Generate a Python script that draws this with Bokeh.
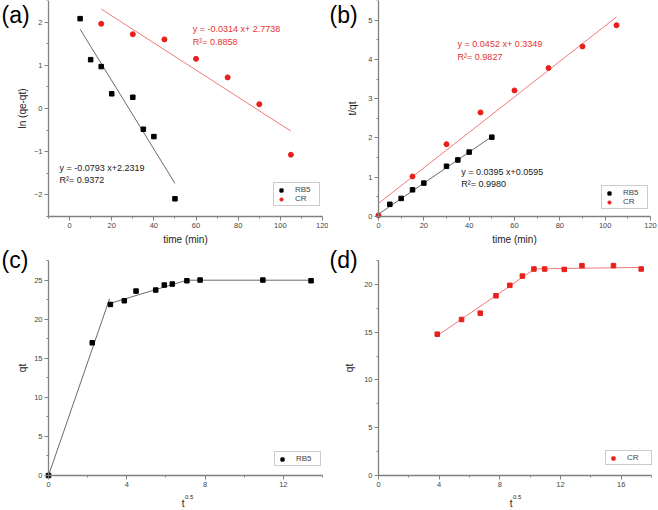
from bokeh.plotting import figure
from bokeh.models import Range1d, FixedTicker, Legend, LegendItem, Label, LinearAxis
from bokeh.layouts import column, row
from bokeh.embed import file_html
from bokeh.resources import INLINE

FONT = "Liberation Sans"
RED = "#e8201c"
RED_TXT = "#e53330"
RED_LINE = "#f07a78"
BLK_LINE = "#6a6a6a"
AX = "#808080"

# ---------------- data ----------------
# (a) pseudo-first-order
a_t_rb5 = [5, 10, 15, 20, 30, 35, 40, 50]
a_ln_rb5 = [2.08, 1.13, 0.97, 0.34, 0.26, -0.48, -0.65, -2.09]
a_t_cr = [15, 30, 45, 60, 75, 90, 105]
a_ln_cr = [1.96, 1.72, 1.60, 1.15, 0.72, 0.10, -1.07]
a_fit_rb5 = [-0.0793, 2.2319]      # slope, intercept
a_fit_cr = [-0.0314, 2.7738]
a_span_rb5 = [5, 50]
a_span_cr = [15, 105]
a_eq_rb5 = ["y = -0.0793 x+2.2319", "R\u00b2= 0.9372"]
a_eq_cr = ["y = -0.0314 x+ 2.7738", "R\u00b2= 0.8858"]

# (b) pseudo-second-order
b_t_rb5 = [5, 10, 15, 20, 30, 35, 40, 50]
b_tq_rb5 = [0.31, 0.46, 0.68, 0.85, 1.28, 1.44, 1.64, 2.02]
b_t_cr = [0, 15, 30, 45, 60, 75, 90, 105]
b_tq_cr = [0.03, 1.02, 1.84, 2.65, 3.21, 3.78, 4.33, 4.87]
b_fit_rb5 = [0.0395, 0.0595]
b_fit_cr = [0.0452, 0.3349]
b_span_rb5 = [0, 50]
b_span_cr = [0, 105]
b_eq_rb5 = ["y = 0.0395 x+0.0595", "R\u00b2= 0.9980"]
b_eq_cr = ["y = 0.0452 x+ 0.3349", "R\u00b2= 0.9827"]

# (c) intraparticle diffusion, RB5
c_x = [0, 2.236, 3.162, 3.873, 4.472, 5.477, 5.916, 6.325, 7.071, 7.746, 10.954, 13.416]
c_qt = [0, 16.97, 21.88, 22.35, 23.59, 23.72, 24.36, 24.49, 24.91, 25.0, 25.0, 24.91]
c_seg_x = [[0, 3.12], [3.12, 7.07], [7.07, 13.42]]
c_seg_y = [[0, 22.6], [22.0, 24.98], [24.98, 24.98]]

# (d) intraparticle diffusion, CR
d_x = [3.873, 5.477, 6.708, 7.746, 8.660, 9.487, 10.247, 10.954, 12.247, 13.416, 15.492, 17.321]
d_qt = [14.79, 16.33, 16.99, 18.81, 19.9, 20.87, 21.61, 21.61, 21.57, 21.96, 21.96, 21.61]
d_seg_x = [[3.9, 10.3], [10.3, 17.32]]
d_seg_y = [[14.65, 21.62], [21.62, 21.78]]

# axis extents and ticks
a_xlim = [-10, 120]; a_ylim = [-2.5, 2.5]
b_xlim = [0, 120]; b_ylim = [0, 5.5]
c_xlim = [0, 14]; c_ylim = [0, 27.5]
d_xlim = [0, 18]; d_ylim = [0, 22.5]
a_xt = [0, 20, 40, 60, 80, 100, 120]; a_xm = [-10, 10, 30, 50, 70, 90, 110]
a_yt = [-2, -1, 0, 1, 2]; a_ym = [-2.5, -1.5, -0.5, 0.5, 1.5, 2.5]
b_xt = [0, 20, 40, 60, 80, 100, 120]; b_xm = [10, 30, 50, 70, 90, 110]
b_yt = [0, 1, 2, 3, 4, 5]; b_ym = [0.5, 1.5, 2.5, 3.5, 4.5, 5.5]
c_xt = [0, 4, 8, 12]; c_xm = [2, 6, 10, 14]
c_yt = [0, 5, 10, 15, 20, 25]; c_ym = [2.5, 7.5, 12.5, 17.5, 22.5, 27.5]
d_xt = [0, 4, 8, 12, 16]; d_xm = [2, 6, 10, 14, 18]
d_yt = [0, 5, 10, 15, 20]; d_ym = [2.5, 7.5, 12.5, 17.5, 22.5]


def canvas_range(lim, p0, p1, total):
    # lim[0] sits at pixel p0, lim[1] at pixel p1 (pixels counted from the canvas start)
    s = (p1 - p0) / (lim[1] - lim[0])
    return Range1d(lim[0] - p0 / s, lim[1] + (total - p1) / s)


def make_fig(w, h, xlim, ylim, box):
    # box = (left, right, top, bottom) of the plotting region, in canvas pixels
    l, r, t, b = box
    p = figure(width=w, height=h,
               x_range=canvas_range(xlim, l, r, w),
               y_range=canvas_range(ylim, h - b, h - t, h),
               output_backend="svg", toolbar_location=None,
               x_axis_location=None, y_axis_location=None,
               min_border=0, min_border_left=0, min_border_right=0,
               min_border_top=0, min_border_bottom=0)
    p.outline_line_color = None
    p.grid.visible = False
    p.background_fill_color = "white"
    return p


def add_axes(p, xlim, ylim, xt, xm, yt, ym, xlabel, ylabel, ystand):
    xa = LinearAxis(fixed_location=ylim[0], bounds=tuple(xlim),
                    ticker=FixedTicker(ticks=xt, minor_ticks=xm), axis_label=xlabel)
    ya = LinearAxis(fixed_location=xlim[0], bounds=tuple(ylim),
                    ticker=FixedTicker(ticks=yt, minor_ticks=ym), axis_label=ylabel)
    for ax in (xa, ya):
        ax.axis_line_color = AX
        ax.axis_line_width = 1.3
        ax.major_tick_line_color = AX
        ax.minor_tick_line_color = AX
        ax.major_tick_out = 4
        ax.major_tick_in = 0
        ax.minor_tick_out = 2
        ax.minor_tick_in = 0
        ax.major_label_text_font = FONT
        ax.major_label_text_font_size = "7.5px"
        ax.major_label_text_color = "#444444"
        ax.major_label_standoff = 2
        ax.axis_label_text_font = FONT
        ax.axis_label_text_font_size = "10px"
        ax.axis_label_text_font_style = "normal"
        ax.axis_label_text_color = "#222222"
    xa.axis_label_standoff = 3
    ya.axis_label_standoff = ystand
    p.add_layout(xa, "below")
    p.add_layout(ya, "left")


def screen_label(p, text, x, y, size, color="black", align="left", baseline="top"):
    p.add_layout(Label(x=x, y=y, x_units="screen", y_units="screen", text=text,
                       text_font=FONT, text_font_size=size, text_color=color,
                       text_align=align, text_baseline=baseline))


def eq_labels(p, x, ys, lines, color):
    for y, t in zip(ys, lines):
        p.add_layout(Label(x=x, y=y, text=t, text_font=FONT, text_font_size="9px",
                           text_color=color, text_align="left", text_baseline="middle"))


def sqrt_t_label(p, xr):
    screen_label(p, "t", xr, 7.5, "10px", "#222222", "right", "middle")
    screen_label(p, "0.5", xr + 0.5, 13.5, "6px", "#222222", "left", "middle")


def add_legend(p, items, x, y):
    lg = Legend(items=items, location=(x, y), label_text_font=FONT,
                label_text_font_size="8px", glyph_width=10, glyph_height=8,
                label_height=8, label_width=22, label_standoff=9, padding=2,
                spacing=0, margin=0, border_line_color="#9a9a9a",
                border_line_width=1, background_fill_alpha=1.0)
    p.add_layout(lg)


def fit_line(p, coef, span, color):
    xs = list(span)
    ys = [coef[0] * v + coef[1] for v in xs]
    p.line(xs, ys, line_color=color, line_width=1)


WL, WR = 328, 330
HT, HB = 246, 264

# ---------- (a) ----------
pa = make_fig(WL, HT, a_xlim, a_ylim, (48, 322, 0, 216))
add_axes(pa, a_xlim, a_ylim, a_xt, a_xm, a_yt, a_ym, "time (min)", "ln (qe-qt)", 3)
fit_line(pa, a_fit_rb5, a_span_rb5, BLK_LINE)
fit_line(pa, a_fit_cr, a_span_cr, RED_LINE)
ra1 = pa.scatter(a_t_rb5, a_ln_rb5, marker="square", size=4.5, color="black")
ra2 = pa.scatter(a_t_cr, a_ln_cr, marker="circle", size=5, color=RED)
eq_labels(pa, 58.4, [1.83, 1.53], a_eq_cr, RED_TXT)
eq_labels(pa, -4.8, [-1.37, -1.66], a_eq_rb5, "#1a1a1a")
add_legend(pa, [LegendItem(label="RB5", renderers=[ra1]), LegendItem(label="CR", renderers=[ra2])], 273, 40)
screen_label(pa, "(a)", 1, HT - 1, "23px")

# ---------- (b) ----------
pb = make_fig(WR, HT, b_xlim, b_ylim, (50, 322, 0, 216))
add_axes(pb, b_xlim, b_ylim, b_xt, b_xm, b_yt, b_ym, "time (min)", "t/qt", 7)
fit_line(pb, b_fit_rb5, b_span_rb5, BLK_LINE)
fit_line(pb, b_fit_cr, b_span_cr, RED_LINE)
rb1 = pb.scatter(b_t_rb5, b_tq_rb5, marker="square", size=4.5, color="black")
rb2 = pb.scatter(b_t_cr, b_tq_cr, marker="circle", size=5, color=RED)
eq_labels(pb, 34.9, [4.38, 4.07], b_eq_cr, RED_TXT)
eq_labels(pb, 36.5, [1.14, 0.83], b_eq_rb5, "#1a1a1a")
add_legend(pb, [LegendItem(label="RB5", renderers=[rb1]), LegendItem(label="CR", renderers=[rb2])], 273, 37)
screen_label(pb, "(b)", 1, HT - 1, "23px")

# ---------- (c) ----------
pc = make_fig(WL, HB, c_xlim, c_ylim, (48, 322, 14, 229))
add_axes(pc, c_xlim, c_ylim, c_xt, c_xm, c_yt, c_ym, "", "qt", 3)
pc.multi_line(c_seg_x, c_seg_y, line_color=BLK_LINE, line_width=1)
rc1 = pc.scatter(c_x, c_qt, marker="square", size=4.5, color="black")
add_legend(pc, [LegendItem(label="RB5", renderers=[rc1])], 274, 44)
screen_label(pc, "(c)", 1, HB, "23px")
sqrt_t_label(pc, 184)

# ---------- (d) ----------
pd_ = make_fig(WR, HB, d_xlim, d_ylim, (50, 323, 14, 229))
add_axes(pd_, d_xlim, d_ylim, d_xt, d_xm, d_yt, d_ym, "", "qt", 6)
pd_.multi_line(d_seg_x, d_seg_y, line_color=RED_LINE, line_width=1)
rd1 = pd_.scatter(d_x, d_qt, marker="square", size=4.5, color=RED)
add_legend(pd_, [LegendItem(label="CR", renderers=[rd1])], 277, 45)
screen_label(pd_, "(d)", 1, HB, "23px")
sqrt_t_label(pd_, 184)

layout = column(row(pa, pb), row(pc, pd_))
open("out.html", "w").write(file_html(layout, INLINE))
